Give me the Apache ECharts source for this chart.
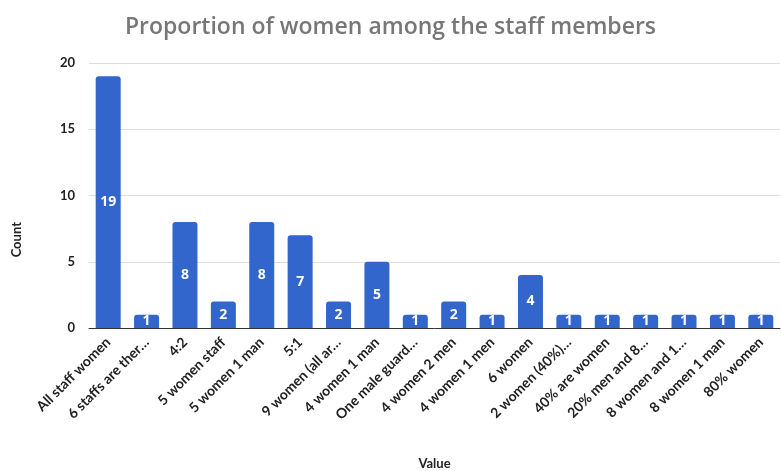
<!DOCTYPE html>
<html>
<head>
<meta charset="utf-8">
<script src="https://cdn.jsdelivr.net/npm/echarts@6/dist/echarts.min.js"></script>
<style>html,body{margin:0;padding:0;background:#fff}#c{width:781px;height:471px}</style>
</head>
<body>
<div id="c"></div>
<script>
const categories = ["All staff women", "6 staffs are ther…", "4:2", "5 women staff", "5 women 1 man", "5:1", "9 women (all ar…", "4 women 1 man", "One male guard…", "4 women 2 men", "4 women 1 men", "6 women", "2 women (40%)…", "40% are women", "20% men and 8…", "8 women and 1…", "8 women 1 man", "80% women"];
const counts = [19, 1, 8, 2, 8, 7, 2, 5, 1, 2, 1, 4, 1, 1, 1, 1, 1, 1];
const yTicks = [0, 5, 10, 15, 20];

const chart = echarts.init(document.getElementById('c'), null, {renderer: 'canvas'});
chart.setOption({
  animation: false,
  backgroundColor: '#fff',
  title: {
    text: 'Proportion of women among the staff members',
    left: 'center', top: 11,
    textStyle: {fontFamily: 'Open Sans', fontWeight: 600, fontSize: 23, color: '#777'}
  },
  graphic: [{
    type: 'text', left: 10, top: 222, rotation: Math.PI / 2,
    style: {text: 'Count', font: 'bold 13px Lato', fill: '#222'}
  }],
  grid: {left: 89, right: 1, top: 63, bottom: 143, containLabel: false, outerBoundsMode: 'none'},
  xAxis: {
    type: 'category', data: categories,
    name: 'Value', nameLocation: 'middle', nameGap: 129,
    nameTextStyle: {fontFamily: 'Lato', fontWeight: 'bold', fontSize: 13, color: '#222'},
    axisLine: {lineStyle: {color: '#333', width: 1}},
    axisTick: {show: false},
    axisLabel: {rotate: 45, interval: 0, fontFamily: 'Lato', fontWeight: 'bold', fontSize: 14, color: '#222', margin: 12}
  },
  yAxis: {
    type: 'value', min: yTicks[0], max: yTicks[yTicks.length - 1], interval: 5,
    axisLine: {show: false}, axisTick: {show: false},
    splitLine: {lineStyle: {color: '#ddd'}},
    axisLabel: {fontFamily: 'Lato', fontWeight: 'bold', fontSize: 13, color: '#222', margin: 14}
  },
  series: [{
    type: 'bar', data: counts, barWidth: 25,
    itemStyle: {color: '#3366cc', borderRadius: [3, 3, 0, 0]},
    label: {show: true, position: 'inside', color: '#fff', fontFamily: 'Open Sans', fontWeight: 'bold', fontSize: 14}
  }]
});
</script>
</body>
</html>
